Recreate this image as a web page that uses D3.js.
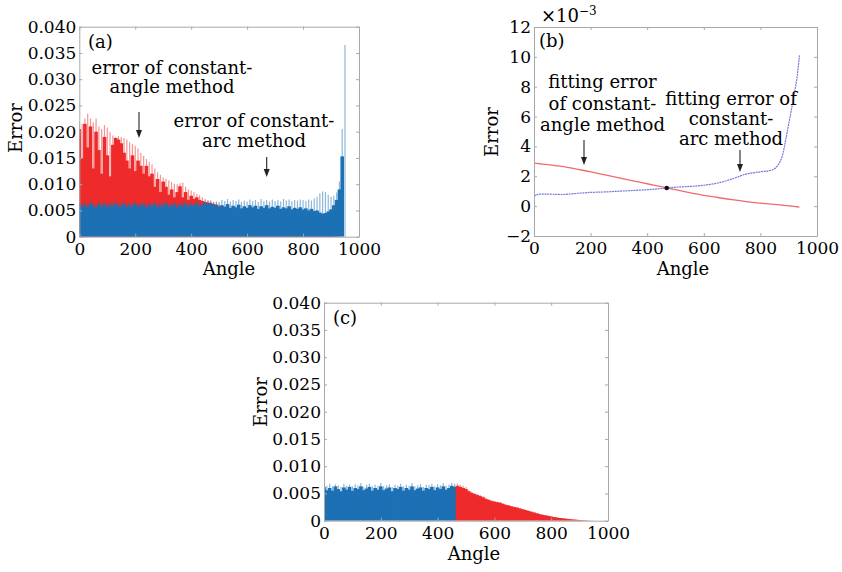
<!DOCTYPE html>
<html>
<head>
<meta charset="utf-8">
<script src="https://cdn.jsdelivr.net/npm/d3@7"></script>
<style>
  body { margin: 0; background: #fff; }
  text { font-family: "DejaVu Serif", serif; fill: #000; }
  .frame .domain, .frame line { stroke: #a8a8a8; }
  .frame text { font-size: 17px; }
</style>
</head>
<body>
<svg id="chart" width="842" height="572"></svg>
<script>
// sampling angles of the error curves (step 10, 0..950)
const angles = d3.range(0, 951, 10);

// error of constant-angle method, x1e-3 (upper spikes / solid body)
const angleErrHi = [21.9,21.5,22.5,23.4,22.5,21.8,22.5,21.0,20.5,21.3,
  20.8,20.0,19.3,19.0,19.2,19.0,18.8,18.5,18.0,17.6,
  17.3,16.8,16.0,15.4,14.8,14.3,13.8,13.0,12.3,11.8,
  11.3,11.0,10.7,10.4,10.1,10.0,10.2,10.3,9.5,9.0,
  8.8,8.5,8.2,7.9,7.5,7.2,7.0,6.8,6.6,6.4,
  6.2,5.6,5.3,5.1,4.9,4.7,4.5,4.2,4.0,3.8,
  3.6,3.5,3.4,3.2,3.0,2.85,2.7,2.6,2.45,2.3,
  2.15,2.0,1.85,1.7,1.55,1.4,1.25,1.1,1.0,0.9,
  0.8,0.7,0.6,0.5,0.45,0.4,0.33,0.27,0.22,0.18,
  0.14,0.1,0.07,0.04,0.02,0.01];
const angleErrLo = [20.5,15.0,21.5,17.0,21.0,13.0,20.0,16.5,12.0,19.0,
  15.5,11.5,17.5,18.8,18.5,17.8,16.0,14.5,13.0,15.5,
  12.5,14.5,13.5,12.0,13.5,11.5,12.0,9.5,11.0,8.5,
  10.5,9.5,8.0,9.0,7.5,8.5,9.6,7.5,8.5,7.0,
  7.8,7.2,7.5,7.0,6.8,6.6,6.5,6.4,6.2,6.0,
  5.8,5.4,5.1,4.9,4.7,4.5,4.3,4.0,3.8,3.6,
  3.5,3.4,3.3,3.1,2.9,2.8,2.65,2.5,2.4,2.25,
  2.1,1.95,1.8,1.65,1.5,1.35,1.2,1.08,0.98,0.88,
  0.78,0.68,0.58,0.5,0.44,0.38,0.32,0.26,0.21,0.17,
  0.13,0.1,0.07,0.04,0.02,0.01];

// error of constant-arc method, x1e-3
const arcErrHi = [6.6,6.4,6.8,6.3,6.7,6.5,6.2,6.8,6.4,6.6,
  6.3,6.7,6.5,6.9,6.2,6.6,6.8,6.3,6.6,6.4,
  6.9,6.3,6.5,6.7,6.2,6.6,6.4,6.8,6.3,6.6,
  6.4,6.9,6.3,6.5,6.7,6.2,6.6,6.5,6.8,6.3,
  6.7,6.5,6.9,6.4,6.6,6.9,6.8,6.9,6.5,6.7,
  6.6,7.0,6.8,7.2,6.7,7.0,6.8,7.1,6.6,6.9,
  6.7,7.1,6.8,7.0,6.6,7.2,6.8,7.0,6.7,7.1,
  6.8,7.0,6.7,7.2,6.9,7.1,6.8,7.0,6.9,7.1,
  7.0,6.8,7.1,6.9,7.3,7.6,8.3,8.6,8.5,8.0,
  7.6,7.8,8.4,10.5,20.5,36.5];
const arcErrLo = [6.2,5.6,6.0,5.5,6.3,5.8,5.4,6.1,5.7,6.2,
  5.5,6.0,5.8,6.3,5.6,5.9,6.2,5.5,6.0,5.7,
  6.3,5.6,5.9,6.1,5.4,6.0,5.8,6.2,5.5,6.0,
  5.7,6.3,5.6,5.9,6.1,5.5,6.0,5.8,6.2,5.6,
  6.1,5.8,6.3,5.7,6.0,6.4,6.2,6.3,5.9,6.1,
  5.6,6.0,5.7,6.2,5.5,5.9,5.6,6.1,5.4,5.8,
  5.5,6.0,5.6,5.9,5.3,5.8,5.5,6.0,5.4,5.7,
  5.5,5.9,5.3,5.6,5.4,5.8,5.2,5.5,5.3,5.6,
  5.2,5.4,5.0,5.3,4.9,5.0,4.6,4.4,4.5,4.8,
  5.2,6.0,7.0,9.0,15.3,0];

// panel (c): switch from constant-arc to constant-angle at this angle
const switchAngle = 465;

// panel (b): fitting errors, x1e-3
const fitAngles = [0,20,50,100,150,200,250,300,350,400,450,470,500,550,600,650,700,750,800,840,860,870,880,890,900,910,920,930,938];
const fitAngleErr = [2.88,2.84,2.78,2.66,2.48,2.3,2.1,1.9,1.7,1.5,1.3,1.22,1.1,0.9,0.72,0.58,0.43,0.3,0.2,0.13,0.1,0.08,0.06,0.04,0.02,0.0,-0.02,-0.04,-0.06];
const fitArcErr = [0.68,0.8,0.8,0.78,0.85,0.92,0.95,1.0,1.05,1.1,1.18,1.22,1.27,1.32,1.4,1.55,1.82,2.15,2.3,2.42,2.7,3.0,3.55,4.5,5.5,6.5,7.55,8.7,10.1];
const crossPoint = { angle: 469, value: 1.22 };

const xTicks = [0, 200, 400, 600, 800, 1000];
const yTicksErr = [0, 0.005, 0.010, 0.015, 0.020, 0.025, 0.030, 0.035, 0.040];
const yTicksFit = [-2, 0, 2, 4, 6, 8, 10, 12];

const red = '#ee2a2a', blue = '#1c70b4';
const svg = d3.select('#chart');

function frame(g, x, y, yTicks, yFmt) {
  const [x0, x1] = x.range(), [y0, y1] = y.range();
  g.append('g').attr('class', 'frame').attr('transform', `translate(0,${y0})`)
    .call(d3.axisBottom(x).tickValues(xTicks).tickSizeInner(-3).tickSizeOuter(0).tickPadding(6).tickFormat(d3.format('d')));
  g.append('g').attr('class', 'frame').attr('transform', `translate(0,${y1})`)
    .call(d3.axisTop(x).tickValues(xTicks).tickSizeInner(-3).tickSizeOuter(0).tickFormat(''));
  g.append('g').attr('class', 'frame').attr('transform', `translate(${x0},0)`)
    .call(d3.axisLeft(y).tickValues(yTicks).tickSizeInner(-3).tickSizeOuter(0).tickPadding(3).tickFormat(yFmt));
  g.append('g').attr('class', 'frame').attr('transform', `translate(${x1},0)`)
    .call(d3.axisRight(y).tickValues(yTicks).tickSizeInner(-3).tickSizeOuter(0).tickFormat(''));
}

const errFmt = d => d === 0 ? '0' : d3.format('.3f')(d);

function spikes(g, x, y, rows, color) {
  const w = x(10) - x(0);
  g.append('g').selectAll('line').data(rows).join('line')
    .attr('x1', d => x(d.a)).attr('x2', d => x(d.a))
    .attr('y1', y(0)).attr('y2', d => y(d.hi * 1e-3))
    .attr('stroke', color).attr('stroke-width', 1.2).attr('stroke-opacity', 0.5);
  // solid body: bars slightly overlapping so no seams show
  g.append('g').selectAll('rect').data(rows).join('rect')
    .attr('x', d => x(d.a) - w / 2 - 0.4).attr('width', w + 0.8)
    .attr('y', d => y(d.lo * 1e-3)).attr('height', d => y(0) - y(d.lo * 1e-3))
    .attr('fill', color);
}

function labels(g, xc, xb, yc, yb) {
  g.append('text').attr('x', xc).attr('y', xb).attr('text-anchor', 'middle').attr('font-size', 18).text('Angle');
  g.append('text').attr('transform', `translate(${yb},${yc}) rotate(-90)`).attr('text-anchor', 'middle').attr('font-size', 18).text('Error');
}

function note(g, cx, lines, baseline, step) {
  g.append('text').attr('text-anchor', 'middle').attr('font-size', 18)
    .selectAll('tspan').data(lines).join('tspan')
    .attr('x', cx).attr('y', (d, i) => baseline + i * step).text(d => d);
}

function arrow(g, x, ya, yb) {
  g.append('line').attr('x1', x).attr('x2', x).attr('y1', ya).attr('y2', yb - 6)
    .attr('stroke', '#222').attr('stroke-width', 1.1);
  g.append('path').attr('d', `M${x - 3},${yb - 8}L${x + 3},${yb - 8}L${x},${yb}Z`).attr('fill', '#222');
}

const angleRows = angles.map((a, i) => ({ a, hi: angleErrHi[i], lo: angleErrLo[i] }));
const arcRows = angles.map((a, i) => ({ a, hi: arcErrHi[i], lo: arcErrLo[i] }));

// ---------- (a) ----------
{
  const x = d3.scaleLinear().domain([0, 1000]).range([79.3, 359]);
  const y = d3.scaleLinear().domain([0, 0.04]).range([236.7, 26.7]);
  const g = svg.append('g');
  svg.append('clipPath').attr('id', 'clipA').append('rect')
    .attr('x', 79.3).attr('y', 26.7).attr('width', 359 - 79.3).attr('height', 210);
  const p = g.append('g').attr('clip-path', 'url(#clipA)');
  spikes(p, x, y, angleRows, red);
  spikes(p, x, y, arcRows, blue);
  frame(g, x, y, yTicksErr, errFmt);
  labels(g, 229, 275, 128, 22);
  g.append('text').attr('x', 88).attr('y', 48).attr('font-size', 18).text('(a)');
  note(g, 172, ['error of constant-', 'angle method'], 73.5, 19.5);
  arrow(g, 139, 112, 138);
  note(g, 254, ['error of constant-', 'arc method'], 127, 20);
  arrow(g, 266.7, 157, 177);
}

// ---------- (b) ----------
{
  const x = d3.scaleLinear().domain([0, 1000]).range([534, 817]);
  const y = d3.scaleLinear().domain([-2, 12]).range([236, 27]);
  const g = svg.append('g');
  const line = d3.line().x(d => x(d[0])).y(d => y(d[1])).curve(d3.curveMonotoneX);
  g.append('path').attr('d', line(fitAngles.map((a, i) => [a, fitAngleErr[i]])))
    .attr('fill', 'none').attr('stroke', '#f26a6a').attr('stroke-width', 1.3);
  g.append('path').attr('d', line(fitAngles.map((a, i) => [a, fitArcErr[i]])))
    .attr('fill', 'none').attr('stroke', '#7676da').attr('stroke-width', 1.2)
    .attr('stroke-dasharray', '2,0.7');
  g.append('circle').attr('cx', x(crossPoint.angle)).attr('cy', y(crossPoint.value)).attr('r', 2.3).attr('fill', '#111');
  frame(g, x, y, yTicksFit, d3.format('d'));
  labels(g, 683, 275, 132, 498);
  g.append('text').attr('x', 539).attr('y', 47).attr('font-size', 18).text('(b)');
  const mult = g.append('text').attr('x', 541).attr('y', 22).attr('font-size', 18);
  mult.append('tspan').text('×10');
  mult.append('tspan').attr('dy', -7).attr('font-size', 12).text('−3');
  note(g, 602.5, ['fitting error', 'of constant-', 'angle method'], 88, 21.5);
  arrow(g, 584, 140, 165);
  note(g, 731, ['fitting error of', 'constant-', 'arc method'], 105, 20);
  arrow(g, 740, 150, 172);
}

// ---------- (c) ----------
{
  const x = d3.scaleLinear().domain([0, 1000]).range([324, 608]);
  const y = d3.scaleLinear().domain([0, 0.04]).range([520.7, 302.7]);
  const g = svg.append('g');
  svg.append('clipPath').attr('id', 'clipC').append('rect')
    .attr('x', 324).attr('y', 302.7).attr('width', 284).attr('height', 218);
  const p = g.append('g').attr('clip-path', 'url(#clipC)');
  spikes(p, x, y, arcRows.filter(d => d.a < switchAngle), blue);
  spikes(p, x, y, angleRows.filter(d => d.a > switchAngle), red);
  frame(g, x, y, yTicksErr, errFmt);
  labels(g, 474, 560, 402, 267);
  g.append('text').attr('x', 333).attr('y', 324).attr('font-size', 18).text('(c)');
}
</script>
</body>
</html>
